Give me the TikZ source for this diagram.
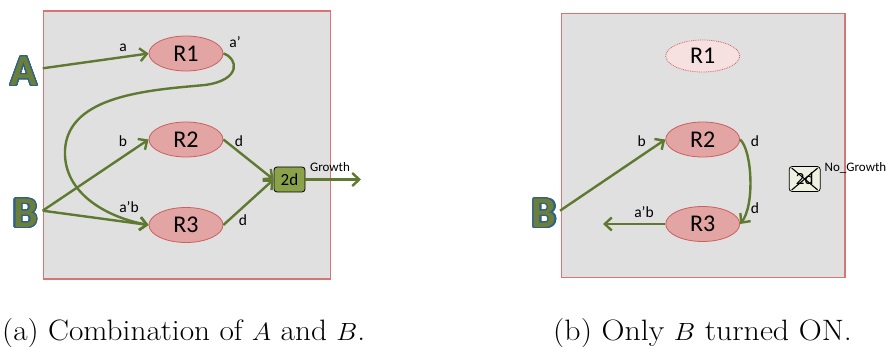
\documentclass[tikz,border=0pt]{standalone}
\usepackage{fontspec}
\usepackage{contour}
\usetikzlibrary{shapes.geometric,arrows.meta}
\newfontfamily\labelfont{Carlito}
\definecolor{panelgray}{HTML}{E0E0E0}
\definecolor{panelred}{HTML}{D97474}
\definecolor{reacfill}{HTML}{E3A4A4}
\definecolor{reacdraw}{HTML}{C9605C}
\definecolor{offfill}{HTML}{F6E0E0}
\definecolor{flowgreen}{HTML}{5F7A30}
\definecolor{boxgreen}{HTML}{8CA24A}
\definecolor{offbox}{HTML}{EEF0E0}
\definecolor{letterfill}{HTML}{6A7F38}
\definecolor{letterline}{HTML}{2F5F8E}
\contourlength{1.3pt}
\contournumber{24}
\tikzset{
  panel/.style={draw=panelred, fill=panelgray, line width=1.5pt},
  reac/.style={ellipse, draw=reacdraw, fill=reacfill, line width=0.8pt,
    minimum width=74pt, minimum height=35pt, inner sep=0pt,
    font=\labelfont\fontsize{24}{25}\selectfont},
  reacoff/.style={reac, fill=offfill, draw=reacdraw, densely dotted, minimum height=32pt},
  gatebox/.style={rectangle, rounded corners=3pt, draw=black, fill=boxgreen, line width=0.8pt,
    minimum width=31pt, minimum height=25pt, inner sep=0pt,
    font=\labelfont\fontsize{17}{18}\selectfont},
  gateoff/.style={gatebox, fill=offbox},
  flow/.style={draw=flowgreen, line width=2.4pt, -{Straight Barb[length=7pt,width=13pt,line width=2.4pt]}},
  lbl/.style={font=\labelfont\fontsize{15.5}{16}\selectfont, inner sep=0pt},
  smalllbl/.style={font=\labelfont\fontsize{13}{14}\selectfont, inner sep=0pt},
  bigletter/.style={font=\labelfont\bfseries\fontsize{44}{44}\selectfont, inner sep=0pt},
  caption/.style={font=\fontsize{29.5}{30}\selectfont, inner sep=0pt, anchor=base west}
}
% outlined signal letters: olive fill inside a blue contour
\newcommand{\bigsig}[1]{\contour{letterline}{\textcolor{letterfill}{#1}}}
\begin{document}
\begin{tikzpicture}[x=1pt,y=-1pt]
\useasboundingbox (0,0) rectangle (887,347);

% ---------- panel (a): A and B together ----------
\draw[panel] (43.3,11) rectangle (330.7,279);
\node[reac] (r1a) at (186,53.5) {R1};
\node[reac] (r2a) at (186,139.5) {R2};
\node[reac] (r3a) at (186,225) {R3};
\node[gatebox] (ga) at (289.5,179.5) {2d};
\node[bigletter] (sa) at (24,72) {\bigsig{A}};
\node[bigletter] (sb) at (25.5,214) {\bigsig{B}};
\coordinate (sao) at (42.7,68.3);
\coordinate (sbo) at (42.7,210.7);
\coordinate (growth) at (361,179.5);

\draw[flow] (sao) -- (r1a.west);
\draw[flow] (sbo) -- (r2a.west);
\draw[flow] (sbo) -- (r3a.west);
\draw[flow] (r1a.east) .. controls (238,58) and (242,80) .. (205,85)
  .. controls (150,90) and (68,95) .. (65,150)
  .. controls (63,195) and (110,218) .. (r3a.west);
\draw[flow] (r2a.east) -- (ga.west);
\draw[flow] (r3a.east) -- (ga.west);
\draw[flow] (ga.east) -- (growth);

\node[lbl] (la) at (123,48) {a};
\node[lbl] (lap) at (235,42) {a’};
\node[lbl] (lb) at (123,141) {b};
\node[lbl] (lab) at (129,207) {a’b};
\node[lbl] (ld1) at (239,141) {d};
\node[lbl] (ld2) at (243,220) {d};
\node[smalllbl] (lg) at (330,167) {Growth};

% ---------- panel (b): only B ----------
\draw[panel] (561.7,13.3) rectangle (845,277.3);
\node[reacoff] (r1b) at (702.7,56) {R1};
\node[reac] (r2b) at (702.7,139.5) {R2};
\node[reac] (r3b) at (702.7,224) {R3};
\node[gateoff] (gb) at (804.7,179) {2d};
\draw[line width=1.1pt] ([shift={(3pt,-2pt)}]gb.north west) -- ([shift={(-3pt,2pt)}]gb.south east);
\draw[line width=1.1pt] ([shift={(-3pt,-2pt)}]gb.north east) -- ([shift={(3pt,2pt)}]gb.south west);
\node[bigletter] (sbb) at (544.3,214) {\bigsig{B}};
\coordinate (sbbo) at (560,210.7);
\coordinate (about) at (603,224);

\draw[flow] (sbbo) -- (r2b.west);
\draw[flow] (r2b.east) .. controls (752,150) and (755,205) .. (r3b.east);
\draw[flow] (r3b.west) -- (about);

\node[lbl] (lbb) at (641.7,141) {b};
\node[lbl] (ldb1) at (755,141) {d};
\node[lbl] (ldb2) at (755,208) {d};
\node[lbl] (labb) at (644,212) {a’b};
\node[smalllbl, anchor=west] (lng) at (824.5,167.5) {No\_Growth};

% ---------- captions ----------
\node[caption, xscale=1.06] (capa) at (2,341) {(a) Combination of $A$ and $B$.};
\node[caption, xscale=1.08] (capb) at (553,341) {(b) Only $B$ turned ON.};
\end{tikzpicture}
\end{document}
